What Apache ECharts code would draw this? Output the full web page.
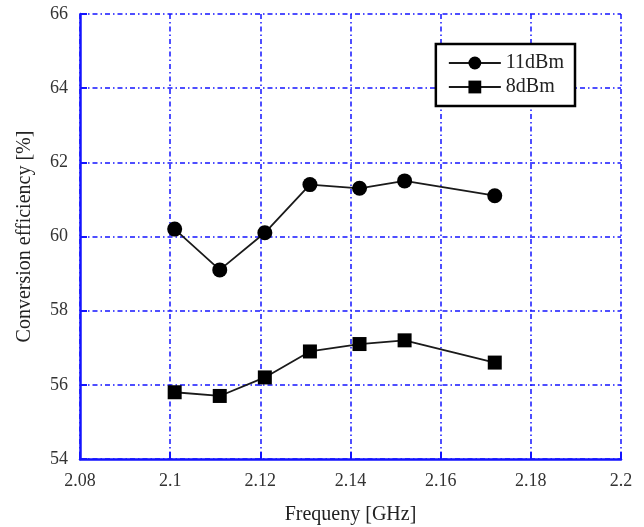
<!DOCTYPE html>
<html>
<head>
<meta charset="utf-8">
<script src="https://cdn.jsdelivr.net/npm/echarts@6/dist/echarts.min.js"></script>
<style>
  html, body { margin: 0; padding: 0; background: #ffffff; }
  #chart { width: 644px; height: 527px; }
</style>
</head>
<body>
<div id="chart"></div>
<script>
// Measured conversion efficiency vs. frequency at two input power levels
const frequencies = [2.101, 2.111, 2.121, 2.131, 2.142, 2.152, 2.172];
const eff11dBm = [60.2, 59.1, 60.1, 61.4, 61.3, 61.5, 61.1];
const eff8dBm = [55.8, 55.7, 56.2, 56.9, 57.1, 57.2, 56.6];
const seriesNames = ['11dBm', '8dBm'];

const blue = '#1414ff';
const serif = '"Liberation Serif", "DejaVu Serif", serif';

function pairs(xs, ys) {
  return xs.map((x, i) => [x, ys[i]]);
}

const gridLine = {
  show: true,
  lineStyle: { color: blue, width: 1.5, type: [5, 3, 1.5, 3] }
};

const chart = echarts.init(document.getElementById('chart'));
chart.setOption({
  backgroundColor: '#ffffff',
  animation: false,
  grid: { left: 80, top: 14, right: 23, bottom: 68, containLabel: false, outerBoundsMode: 'none' },
  legend: {
    right: 69,
    top: 44,
    orient: 'vertical',
    backgroundColor: '#ffffff',
    borderColor: '#000',
    borderWidth: 2.5,
    padding: [9, 11, 9, 12],
    itemGap: 4,
    itemWidth: 52,
    itemHeight: 16,
    textStyle: { fontFamily: serif, fontSize: 20, color: '#222' },
    data: seriesNames
  },
  xAxis: {
    type: 'value',
    min: 2.08,
    max: 2.2,
    interval: 0.02,
    name: 'Frequeny [GHz]',
    nameLocation: 'middle',
    nameGap: 46,
    nameTextStyle: { fontFamily: serif, fontSize: 20, color: '#222' },
    axisLine: { show: true, onZero: false, lineStyle: { color: blue, width: 2.5 } },
    axisTick: { show: true, inside: true, length: 7, lineStyle: { color: blue, width: 2 } },
    axisLabel: {
      fontFamily: serif, fontSize: 18, color: '#333', margin: 13,
      formatter: v => String(Math.round(v * 100) / 100)
    },
    splitLine: gridLine
  },
  yAxis: {
    type: 'value',
    min: 54,
    max: 66,
    interval: 2,
    name: 'Conversion efficiency [%]',
    nameLocation: 'middle',
    nameGap: 45,
    nameTextStyle: { fontFamily: serif, fontSize: 20, color: '#222' },
    axisLine: { show: true, onZero: false, lineStyle: { color: blue, width: 2.5 } },
    axisTick: { show: true, inside: true, length: 7, lineStyle: { color: blue, width: 2 } },
    axisLabel: { fontFamily: serif, fontSize: 18, color: '#333', margin: 12 },
    splitLine: gridLine
  },
  series: [
    {
      name: seriesNames[0],
      type: 'line',
      data: pairs(frequencies, eff11dBm),
      symbol: 'circle',
      symbolSize: 15,
      itemStyle: { color: '#000' },
      lineStyle: { color: '#1a1a1a', width: 1.8 }
    },
    {
      name: seriesNames[1],
      type: 'line',
      data: pairs(frequencies, eff8dBm),
      symbol: 'rect',
      symbolSize: 14,
      itemStyle: { color: '#000' },
      lineStyle: { color: '#1a1a1a', width: 1.8 }
    }
  ]
});
</script>
</body>
</html>
